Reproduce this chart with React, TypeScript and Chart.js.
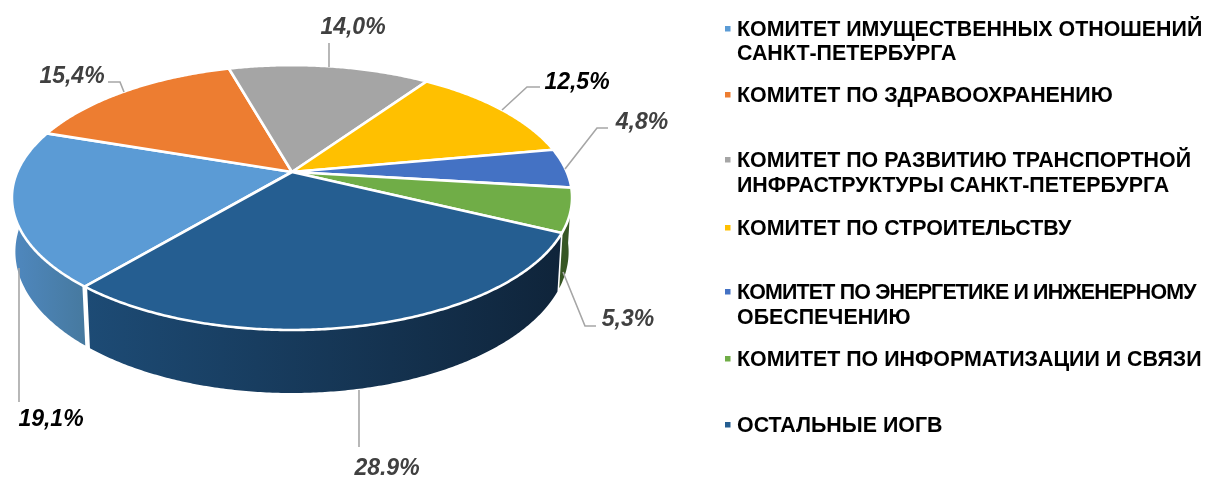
import React, { useEffect, useRef } from "react";
import { Chart, registerables } from "chart.js";

Chart.register(...registerables);

const categories = [
  "КОМИТЕТ ИМУЩЕСТВЕННЫХ ОТНОШЕНИЙ САНКТ-ПЕТЕРБУРГА",
  "КОМИТЕТ ПО ЗДРАВООХРАНЕНИЮ",
  "КОМИТЕТ ПО РАЗВИТИЮ ТРАНСПОРТНОЙ ИНФРАСТРУКТУРЫ САНКТ-ПЕТЕРБУРГА",
  "КОМИТЕТ ПО СТРОИТЕЛЬСТВУ",
  "КОМИТЕТ ПО ЭНЕРГЕТИКЕ И ИНЖЕНЕРНОМУ ОБЕСПЕЧЕНИЮ",
  "КОМИТЕТ ПО ИНФОРМАТИЗАЦИИ И СВЯЗИ",
  "ОСТАЛЬНЫЕ ИОГВ",
];
const values = [19.1, 15.4, 14.0, 12.5, 4.8, 5.3, 28.9];
const valueLabels = ["19,1%", "15,4%", "14,0%", "12,5%", "4,8%", "5,3%", "28.9%"];
const colors = ["#5b9bd5", "#ed7d31", "#a5a5a5", "#ffc000", "#4472c4", "#70ad47", "#255e91"];
const wallStart = ["#4f88bf", "#b85f22", "#7c7c7c", "#bf9000", "#2f528f", "#375623", "#1d4b75"];
const wallEnd = ["#46799f", "#b85f22", "#7c7c7c", "#bf9000", "#2f528f", "#375623", "#0f243a"];

// layout
const legendLines = [
  ["КОМИТЕТ ИМУЩЕСТВЕННЫХ ОТНОШЕНИЙ", "САНКТ-ПЕТЕРБУРГА"],
  ["КОМИТЕТ ПО ЗДРАВООХРАНЕНИЮ"],
  ["КОМИТЕТ ПО РАЗВИТИЮ ТРАНСПОРТНОЙ", "ИНФРАСТРУКТУРЫ САНКТ-ПЕТЕРБУРГА"],
  ["КОМИТЕТ ПО СТРОИТЕЛЬСТВУ"],
  ["КОМИТЕТ ПО ЭНЕРГЕТИКЕ И ИНЖЕНЕРНОМУ", "ОБЕСПЕЧЕНИЮ"],
  ["КОМИТЕТ ПО ИНФОРМАТИЗАЦИИ И СВЯЗИ"],
  ["ОСТАЛЬНЫЕ ИОГВ"],
];
const legendBaselines = [[36, 60], [102], [167, 192], [235], [299, 324], [366], [432]];
const legendMaxWidth = 475;
const labelPos = [[51, 419.5], [72, 77], [353, 28], [577, 83], [642, 123], [628, 319.5], [387, 469]];
const labelColor = ["#000000", "#404040", "#404040", "#000000", "#404040", "#404040", "#404040"];
const leaders = [
  [[19, 268], [19, 402]],
  [[108, 82], [120, 82], [124, 92]],
  [[329, 43], [329, 67]],
  [[502, 110], [527, 87], [540, 87]],
  [[565, 169], [597, 128], [608, 128]],
  [[563, 272], [585, 326], [596, 326]],
  [[359, 390], [359, 447]],
];

const CX = 292, CY = 172, R = 274.8, S = 127.5, A = 0.193, B = 0.012, DEPTH = 53.5;
const project = (theta: number, z: number): [number, number] => {
  const u = Math.cos(theta), v = Math.sin(theta);
  const d = 1 - A * v + B * z;
  return [CX + (R * u) / d, CY + (S * v + DEPTH * z) / d];
};

const pie3d = {
  id: "pie3d",
  beforeDatasetsDraw(chart: any) {
    const ctx: CanvasRenderingContext2D = chart.ctx;
    const arcs = chart.getDatasetMeta(0).data;
    const step = Math.PI / 360;
    const gap = 0.011;
    ctx.save();
    arcs.forEach((arc: any, i: number) => {
      const pts: [number, number][] = [];
      const a0 = arc.startAngle + gap, a1 = arc.endAngle - gap;
      for (let t = a0; t < a1; t += step) pts.push(project(t, 0));
      pts.push(project(a1, 0));
      for (let t = a1; t > a0; t -= step) pts.push(project(t, 1));
      pts.push(project(a0, 1));
      const xs = pts.map((p) => p[0]);
      const g = ctx.createLinearGradient(Math.min(...xs), 0, Math.max(...xs), 0);
      g.addColorStop(0, wallStart[i]);
      g.addColorStop(1, wallEnd[i]);
      ctx.fillStyle = g;
      ctx.beginPath();
      pts.forEach((p, k) => (k ? ctx.lineTo(p[0], p[1]) : ctx.moveTo(p[0], p[1])));
      ctx.closePath();
      ctx.fill();
    });
    arcs.forEach((arc: any, i: number) => {
      ctx.beginPath();
      ctx.moveTo(CX, CY);
      for (let t = arc.startAngle; t < arc.endAngle; t += step) {
        const p = project(t, 0);
        ctx.lineTo(p[0], p[1]);
      }
      const e = project(arc.endAngle, 0);
      ctx.lineTo(e[0], e[1]);
      ctx.closePath();
      ctx.fillStyle = colors[i];
      ctx.fill();
      ctx.strokeStyle = "#ffffff";
      ctx.lineWidth = 2.6;
      ctx.lineJoin = "round";
      ctx.stroke();
    });
    ctx.restore();
    return false;
  },
  afterDraw(chart: any) {
    const ctx: CanvasRenderingContext2D = chart.ctx;
    ctx.save();
    ctx.strokeStyle = "#a6a6a6";
    ctx.lineWidth = 1.6;
    leaders.forEach((l) => {
      ctx.beginPath();
      l.forEach((p, k) => (k ? ctx.lineTo(p[0], p[1]) : ctx.moveTo(p[0], p[1])));
      ctx.stroke();
    });
    ctx.font = "italic bold 23px 'Liberation Sans'";
    ctx.textAlign = "center";
    ctx.textBaseline = "middle";
    valueLabels.forEach((t, i) => {
      ctx.fillStyle = labelColor[i];
      ctx.fillText(t, labelPos[i][0], labelPos[i][1]);
    });
    ctx.font = "bold 21.4px 'Liberation Sans'";
    ctx.textAlign = "left";
    ctx.textBaseline = "alphabetic";
    legendLines.forEach((lines, i) => {
      ctx.fillStyle = colors[i];
      ctx.fillRect(725, legendBaselines[i][0] - 10, 5.5, 5.5);
      ctx.fillStyle = "#000000";
      lines.forEach((t, k) => {
        ctx.letterSpacing = "0px";
        if (ctx.measureText(t).width > legendMaxWidth) ctx.letterSpacing = "-0.82px";
        ctx.fillText(t, 737, legendBaselines[i][k]);
      });
    });
    ctx.restore();
  },
};

export default function App() {
  const ref = useRef<HTMLCanvasElement>(null);
  useEffect(() => {
    const chart = new Chart(ref.current!, {
      type: "pie",
      data: {
        labels: categories,
        datasets: [{ data: values, backgroundColor: colors, borderWidth: 0 }],
      },
      options: {
        animation: false,
        responsive: false,
        rotation: 220,
        plugins: { legend: { display: false }, tooltip: { enabled: false } },
      },
      plugins: [pie3d],
    } as any);
    return () => chart.destroy();
  }, []);
  return (
    <div style={{ position: "absolute", left: 0, top: 0, width: 1226, height: 477, background: "#fff" }}>
      <canvas ref={ref} width={1226} height={477} style={{ display: "block" }} />
    </div>
  );
}
